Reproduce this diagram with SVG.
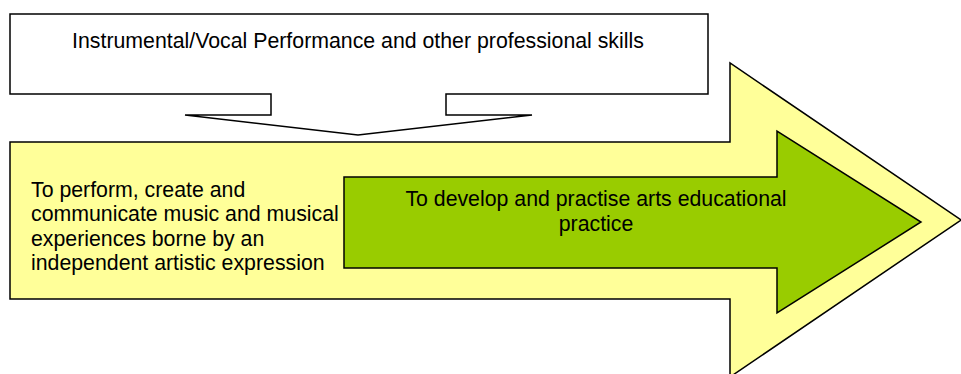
<svg xmlns="http://www.w3.org/2000/svg" width="961" height="374" viewBox="0 0 961 374">
<style>
.shape{stroke:#000;stroke-width:1.5;stroke-linejoin:miter}
.t{font-family:"Liberation Sans",Arial,sans-serif;font-size:21.3px;fill:#000}
</style>
<rect width="961" height="374" fill="#fff"/>
<g id="connectors"></g>
<g id="main-arrow">
<polygon class="shape" fill="#FFFF99" points="10,142 730,142 730,63 961,220 730,377 730,299 10,299"/>
<text class="t" x="31" y="197">To perform, create and</text>
<text class="t" x="31" y="221">communicate music and musical</text>
<text class="t" x="31" y="246">experiences borne by an</text>
<text class="t" x="31" y="270">independent artistic expression</text>
</g>
<g id="inner-arrow">
<polygon class="shape" fill="#99CC00" points="344,177 777,177 777,131 921,222 777,313 777,268 344,268"/>
<text class="t" x="596" y="206" text-anchor="middle">To develop and practise arts educational</text>
<text class="t" x="596" y="231" text-anchor="middle">practice</text>
</g>
<g id="callout">
<polygon class="shape" fill="#fff" points="10,14 708,14 708,94 446,94 446,115 532,115 358,135 185,115 271,115 271,94 10,94"/>
<text class="t" x="358" y="48" text-anchor="middle">Instrumental/Vocal Performance and other professional skills</text>
</g>
</svg>
